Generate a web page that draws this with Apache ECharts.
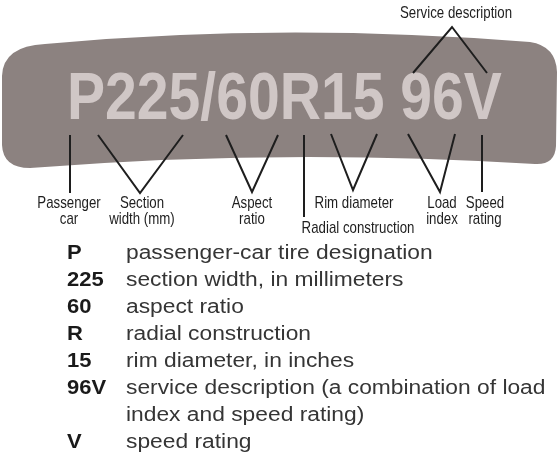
<!DOCTYPE html>
<html>
<head>
<meta charset="utf-8">
<script src="https://cdn.jsdelivr.net/npm/echarts@6/dist/echarts.min.js"></script>
<style>
html, body { margin: 0; padding: 0; background: #fff; }
#main { width: 558px; height: 463px; }
</style>
</head>
<body>
<div id="main"></div>
<script>
// code printed on the sidewall
const tireCode = 'P225/60R15 96V';
// callout labels (same order as calloutPaths below)
const calloutNames = ['Passenger\ncar', 'Section\nwidth (mm)', 'Aspect\nratio', 'Radial construction',
    'Rim diameter', 'Load\nindex', 'Speed\nrating', 'Service description'];
// legend rows
const codeParts = ['P', '225', '60', 'R', '15', '96V', '', 'V'];
const codeMeanings = ['passenger-car tire designation', 'section width, in millimeters', 'aspect ratio',
    'radial construction', 'rim diameter, in inches', 'service description (a combination of load',
    'index and speed rating)', 'speed rating'];

// ---- layout, in axis units (1 unit = 1px) ----
const calloutPaths = [
    [[70, 135], [70, 193]],
    [[98, 135], [140, 193], [183, 135]],
    [[226, 135], [252, 192], [278, 135]],
    [[304, 135], [304, 217]],
    [[331, 134], [353, 190], [377, 134]],
    [[408, 134], [440, 192], [455, 134]],
    [[482, 135], [482, 192]],
    [[413, 73], [452, 27], [487, 73]]
];
const labelPos = [[69, 195], [142, 195], [252, 195], [358, 220], [354, 195], [442, 195], [485, 195], [456, 5]];
// band outline: [cmd, points...]
const bandOutline = [
    ['M', [45, 44]],
    ['Q', [280, 22], [530, 42]],
    ['Q', [556, 46], [557, 72]],
    ['L', [556, 146]],
    ['Q', [555, 165], [535, 164]],
    ['Q', [280, 148], [30, 168]],
    ['Q', [3, 168], [2, 145]],
    ['L', [2, 76]],
    ['Q', [3, 46], [45, 44]]
];
const listX = [67, 126];
const listTop = 243, listStep = 27;

let myChart = echarts.init(document.getElementById('main'));

function bandItem(params, api) {
    let d = '';
    bandOutline.forEach(seg => {
        d += seg[0];
        seg.slice(1).forEach(p => {
            const c = api.coord(p);
            d += ' ' + c[0].toFixed(1) + ' ' + c[1].toFixed(1);
        });
        d += ' ';
    });
    d += 'Z';
    const txt = api.coord([67, 101]);
    return {
        type: 'group',
        children: [
            { type: 'path', shape: { pathData: d }, style: { fill: '#8c8280' } },
            {
                type: 'text', x: txt[0], y: txt[1], scaleX: 0.865,
                style: {
                    text: tireCode, fill: '#d0c7c6', fontFamily: 'Liberation Sans, Arial, sans-serif',
                    fontWeight: 'bold', fontSize: 66, align: 'left', verticalAlign: 'middle'
                }
            }
        ]
    };
}

let options = {
    animation: false,
    backgroundColor: '#fff',
    grid: { left: 0, right: 0, top: 0, bottom: 0 },
    xAxis: { type: 'value', min: 0, max: 558, show: false },
    yAxis: { type: 'value', min: 0, max: 463, inverse: true, show: false },
    series: [
        {
            type: 'custom', clip: false, z: 1,
            data: [[0, 0]],
            renderItem: bandItem
        },
        {
            type: 'custom', clip: false, z: 2,
            data: calloutPaths.map(p => p[0]),
            renderItem: (params, api) => {
                const pts = calloutPaths[params.dataIndex].map(p => api.coord(p));
                return { type: 'polyline', shape: { points: pts }, style: { stroke: '#1e1e1e', lineWidth: 2, fill: null } };
            }
        },
        {
            type: 'custom', clip: false, z: 3,
            data: labelPos,
            renderItem: (params, api) => {
                const c = api.coord(labelPos[params.dataIndex]);
                return {
                    type: 'text', x: c[0], y: c[1], scaleX: 0.78,
                    style: {
                        text: calloutNames[params.dataIndex], fill: '#1e1e1e',
                        fontFamily: 'Liberation Sans, Arial, sans-serif', fontSize: 17, lineHeight: 16,
                        align: 'center', verticalAlign: 'top'
                    }
                };
            }
        },
        {
            type: 'custom', clip: false, z: 3,
            data: codeParts.map((c, i) => [listX[0], listTop + i * listStep]),
            renderItem: (params, api) => {
                const i = params.dataIndex;
                const y = listTop + i * listStep;
                const a = api.coord([listX[0], y]);
                const b = api.coord([listX[1], y]);
                return {
                    type: 'group',
                    children: [
                        { type: 'text', x: a[0], y: a[1], scaleX: 1.1, style: { text: codeParts[i], fill: '#1a1a1a',
                            fontFamily: 'Liberation Sans, Arial, sans-serif', fontWeight: 'bold', fontSize: 20, verticalAlign: 'top' } },
                        { type: 'text', x: b[0], y: b[1], scaleX: 1.14, style: { text: codeMeanings[i], fill: '#353535',
                            fontFamily: 'Liberation Sans, Arial, sans-serif', fontSize: 20, verticalAlign: 'top' } }
                    ]
                };
            }
        }
    ]
};

myChart.setOption(options);
</script>
</body>
</html>
